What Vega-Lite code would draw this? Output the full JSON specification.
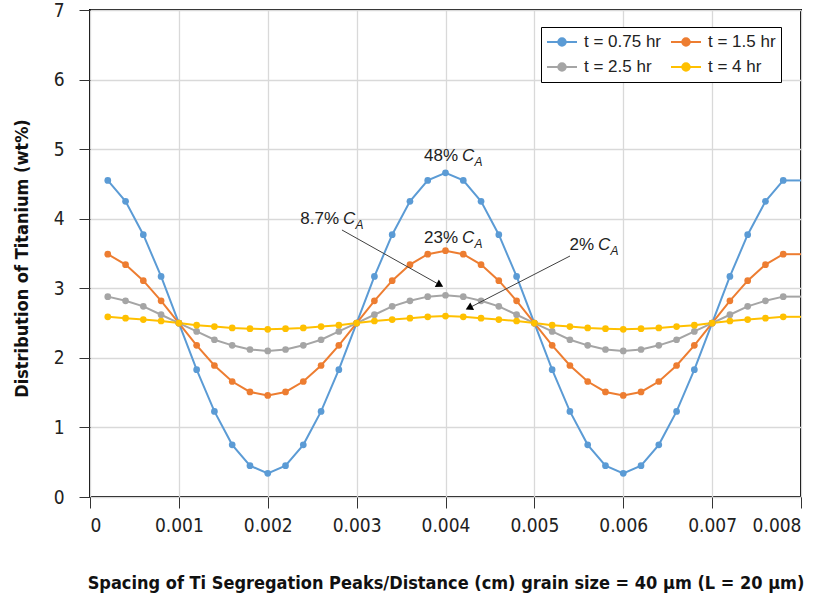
{
  "$schema": "https://vega.github.io/schema/vega-lite/v6.json",
  "width": 711,
  "height": 487,
  "autosize": {"type": "none"},
  "padding": {"left": 90, "top": 10, "right": 24, "bottom": 103},
  "background": "white",
  "config": {
    "view": {"stroke": "#000", "strokeWidth": 2},
    "axis": {
      "domain": false,
      "grid": true,
      "gridColor": "#d9d9d9",
      "gridWidth": 1.3,
      "tickColor": "#333",
      "tickSize": 11,
      "labelFont": "DejaVu Sans Condensed, Liberation Sans, sans-serif",
      "labelFontSize": 19,
      "labelColor": "#222",
      "titleFont": "DejaVu Sans Condensed, Liberation Sans, sans-serif",
      "titleFontSize": 18,
      "titleFontWeight": "bold",
      "titleColor": "#111"
    }
  },
  "datasets": {
    "main": [
      {"x":0.0002,"s":"t = 0.75 hr","y":4.55},{"x":0.0004,"s":"t = 0.75 hr","y":4.25},{"x":0.0006,"s":"t = 0.75 hr","y":3.77},{"x":0.0008,"s":"t = 0.75 hr","y":3.17},{"x":0.001,"s":"t = 0.75 hr","y":2.5},
      {"x":0.0012,"s":"t = 0.75 hr","y":1.83},{"x":0.0014,"s":"t = 0.75 hr","y":1.23},{"x":0.0016,"s":"t = 0.75 hr","y":0.75},{"x":0.0018,"s":"t = 0.75 hr","y":0.45},{"x":0.002,"s":"t = 0.75 hr","y":0.34},
      {"x":0.0022,"s":"t = 0.75 hr","y":0.45},{"x":0.0024,"s":"t = 0.75 hr","y":0.75},{"x":0.0026,"s":"t = 0.75 hr","y":1.23},{"x":0.0028,"s":"t = 0.75 hr","y":1.83},{"x":0.003,"s":"t = 0.75 hr","y":2.5},
      {"x":0.0032,"s":"t = 0.75 hr","y":3.17},{"x":0.0034,"s":"t = 0.75 hr","y":3.77},{"x":0.0036,"s":"t = 0.75 hr","y":4.25},{"x":0.0038,"s":"t = 0.75 hr","y":4.55},{"x":0.004,"s":"t = 0.75 hr","y":4.66},
      {"x":0.0042,"s":"t = 0.75 hr","y":4.55},{"x":0.0044,"s":"t = 0.75 hr","y":4.25},{"x":0.0046,"s":"t = 0.75 hr","y":3.77},{"x":0.0048,"s":"t = 0.75 hr","y":3.17},{"x":0.005,"s":"t = 0.75 hr","y":2.5},
      {"x":0.0052,"s":"t = 0.75 hr","y":1.83},{"x":0.0054,"s":"t = 0.75 hr","y":1.23},{"x":0.0056,"s":"t = 0.75 hr","y":0.75},{"x":0.0058,"s":"t = 0.75 hr","y":0.45},{"x":0.006,"s":"t = 0.75 hr","y":0.34},
      {"x":0.0062,"s":"t = 0.75 hr","y":0.45},{"x":0.0064,"s":"t = 0.75 hr","y":0.75},{"x":0.0066,"s":"t = 0.75 hr","y":1.23},{"x":0.0068,"s":"t = 0.75 hr","y":1.83},{"x":0.007,"s":"t = 0.75 hr","y":2.5},
      {"x":0.0072,"s":"t = 0.75 hr","y":3.17},{"x":0.0074,"s":"t = 0.75 hr","y":3.77},{"x":0.0076,"s":"t = 0.75 hr","y":4.25},{"x":0.0078,"s":"t = 0.75 hr","y":4.55},

      {"x":0.0002,"s":"t = 1.5 hr","y":3.49},{"x":0.0004,"s":"t = 1.5 hr","y":3.34},{"x":0.0006,"s":"t = 1.5 hr","y":3.11},{"x":0.0008,"s":"t = 1.5 hr","y":2.82},{"x":0.001,"s":"t = 1.5 hr","y":2.5},
      {"x":0.0012,"s":"t = 1.5 hr","y":2.18},{"x":0.0014,"s":"t = 1.5 hr","y":1.89},{"x":0.0016,"s":"t = 1.5 hr","y":1.66},{"x":0.0018,"s":"t = 1.5 hr","y":1.51},{"x":0.002,"s":"t = 1.5 hr","y":1.46},
      {"x":0.0022,"s":"t = 1.5 hr","y":1.51},{"x":0.0024,"s":"t = 1.5 hr","y":1.66},{"x":0.0026,"s":"t = 1.5 hr","y":1.89},{"x":0.0028,"s":"t = 1.5 hr","y":2.18},{"x":0.003,"s":"t = 1.5 hr","y":2.5},
      {"x":0.0032,"s":"t = 1.5 hr","y":2.82},{"x":0.0034,"s":"t = 1.5 hr","y":3.11},{"x":0.0036,"s":"t = 1.5 hr","y":3.34},{"x":0.0038,"s":"t = 1.5 hr","y":3.49},{"x":0.004,"s":"t = 1.5 hr","y":3.54},
      {"x":0.0042,"s":"t = 1.5 hr","y":3.49},{"x":0.0044,"s":"t = 1.5 hr","y":3.34},{"x":0.0046,"s":"t = 1.5 hr","y":3.11},{"x":0.0048,"s":"t = 1.5 hr","y":2.82},{"x":0.005,"s":"t = 1.5 hr","y":2.5},
      {"x":0.0052,"s":"t = 1.5 hr","y":2.18},{"x":0.0054,"s":"t = 1.5 hr","y":1.89},{"x":0.0056,"s":"t = 1.5 hr","y":1.66},{"x":0.0058,"s":"t = 1.5 hr","y":1.51},{"x":0.006,"s":"t = 1.5 hr","y":1.46},
      {"x":0.0062,"s":"t = 1.5 hr","y":1.51},{"x":0.0064,"s":"t = 1.5 hr","y":1.66},{"x":0.0066,"s":"t = 1.5 hr","y":1.89},{"x":0.0068,"s":"t = 1.5 hr","y":2.18},{"x":0.007,"s":"t = 1.5 hr","y":2.5},
      {"x":0.0072,"s":"t = 1.5 hr","y":2.82},{"x":0.0074,"s":"t = 1.5 hr","y":3.11},{"x":0.0076,"s":"t = 1.5 hr","y":3.34},{"x":0.0078,"s":"t = 1.5 hr","y":3.49},

      {"x":0.0002,"s":"t = 2.5 hr","y":2.88},{"x":0.0004,"s":"t = 2.5 hr","y":2.82},{"x":0.0006,"s":"t = 2.5 hr","y":2.74},{"x":0.0008,"s":"t = 2.5 hr","y":2.62},{"x":0.001,"s":"t = 2.5 hr","y":2.5},
      {"x":0.0012,"s":"t = 2.5 hr","y":2.38},{"x":0.0014,"s":"t = 2.5 hr","y":2.26},{"x":0.0016,"s":"t = 2.5 hr","y":2.18},{"x":0.0018,"s":"t = 2.5 hr","y":2.12},{"x":0.002,"s":"t = 2.5 hr","y":2.1},
      {"x":0.0022,"s":"t = 2.5 hr","y":2.12},{"x":0.0024,"s":"t = 2.5 hr","y":2.18},{"x":0.0026,"s":"t = 2.5 hr","y":2.26},{"x":0.0028,"s":"t = 2.5 hr","y":2.38},{"x":0.003,"s":"t = 2.5 hr","y":2.5},
      {"x":0.0032,"s":"t = 2.5 hr","y":2.62},{"x":0.0034,"s":"t = 2.5 hr","y":2.74},{"x":0.0036,"s":"t = 2.5 hr","y":2.82},{"x":0.0038,"s":"t = 2.5 hr","y":2.88},{"x":0.004,"s":"t = 2.5 hr","y":2.9},
      {"x":0.0042,"s":"t = 2.5 hr","y":2.88},{"x":0.0044,"s":"t = 2.5 hr","y":2.82},{"x":0.0046,"s":"t = 2.5 hr","y":2.74},{"x":0.0048,"s":"t = 2.5 hr","y":2.62},{"x":0.005,"s":"t = 2.5 hr","y":2.5},
      {"x":0.0052,"s":"t = 2.5 hr","y":2.38},{"x":0.0054,"s":"t = 2.5 hr","y":2.26},{"x":0.0056,"s":"t = 2.5 hr","y":2.18},{"x":0.0058,"s":"t = 2.5 hr","y":2.12},{"x":0.006,"s":"t = 2.5 hr","y":2.1},
      {"x":0.0062,"s":"t = 2.5 hr","y":2.12},{"x":0.0064,"s":"t = 2.5 hr","y":2.18},{"x":0.0066,"s":"t = 2.5 hr","y":2.26},{"x":0.0068,"s":"t = 2.5 hr","y":2.38},{"x":0.007,"s":"t = 2.5 hr","y":2.5},
      {"x":0.0072,"s":"t = 2.5 hr","y":2.62},{"x":0.0074,"s":"t = 2.5 hr","y":2.74},{"x":0.0076,"s":"t = 2.5 hr","y":2.82},{"x":0.0078,"s":"t = 2.5 hr","y":2.88},

      {"x":0.0002,"s":"t = 4 hr","y":2.59},{"x":0.0004,"s":"t = 4 hr","y":2.57},{"x":0.0006,"s":"t = 4 hr","y":2.55},{"x":0.0008,"s":"t = 4 hr","y":2.53},{"x":0.001,"s":"t = 4 hr","y":2.5},
      {"x":0.0012,"s":"t = 4 hr","y":2.47},{"x":0.0014,"s":"t = 4 hr","y":2.45},{"x":0.0016,"s":"t = 4 hr","y":2.43},{"x":0.0018,"s":"t = 4 hr","y":2.42},{"x":0.002,"s":"t = 4 hr","y":2.41},
      {"x":0.0022,"s":"t = 4 hr","y":2.42},{"x":0.0024,"s":"t = 4 hr","y":2.43},{"x":0.0026,"s":"t = 4 hr","y":2.45},{"x":0.0028,"s":"t = 4 hr","y":2.47},{"x":0.003,"s":"t = 4 hr","y":2.5},
      {"x":0.0032,"s":"t = 4 hr","y":2.53},{"x":0.0034,"s":"t = 4 hr","y":2.55},{"x":0.0036,"s":"t = 4 hr","y":2.57},{"x":0.0038,"s":"t = 4 hr","y":2.59},{"x":0.004,"s":"t = 4 hr","y":2.6},
      {"x":0.0042,"s":"t = 4 hr","y":2.59},{"x":0.0044,"s":"t = 4 hr","y":2.57},{"x":0.0046,"s":"t = 4 hr","y":2.55},{"x":0.0048,"s":"t = 4 hr","y":2.53},{"x":0.005,"s":"t = 4 hr","y":2.5},
      {"x":0.0052,"s":"t = 4 hr","y":2.47},{"x":0.0054,"s":"t = 4 hr","y":2.45},{"x":0.0056,"s":"t = 4 hr","y":2.43},{"x":0.0058,"s":"t = 4 hr","y":2.42},{"x":0.006,"s":"t = 4 hr","y":2.41},
      {"x":0.0062,"s":"t = 4 hr","y":2.42},{"x":0.0064,"s":"t = 4 hr","y":2.43},{"x":0.0066,"s":"t = 4 hr","y":2.45},{"x":0.0068,"s":"t = 4 hr","y":2.47},{"x":0.007,"s":"t = 4 hr","y":2.5},
      {"x":0.0072,"s":"t = 4 hr","y":2.53},{"x":0.0074,"s":"t = 4 hr","y":2.55},{"x":0.0076,"s":"t = 4 hr","y":2.57},{"x":0.0078,"s":"t = 4 hr","y":2.59}
    ],
    "tail": [
      {"x":0.0078,"s":"t = 0.75 hr","y":4.55},{"x":0.008,"s":"t = 0.75 hr","y":4.55},
      {"x":0.0078,"s":"t = 1.5 hr","y":3.49},{"x":0.008,"s":"t = 1.5 hr","y":3.49},
      {"x":0.0078,"s":"t = 2.5 hr","y":2.88},{"x":0.008,"s":"t = 2.5 hr","y":2.88},
      {"x":0.0078,"s":"t = 4 hr","y":2.59},{"x":0.008,"s":"t = 4 hr","y":2.59}
    ],
    "ann": [
      {"x":0.004186,"y":4.83,"pct":"48%"},
      {"x":0.002847,"y":3.924,"pct":"8.7%"},
      {"x":0.004186,"y":3.651,"pct":"23%"},
      {"x":0.005716,"y":3.55,"pct":"2%"}
    ],
    "arr": [
      {"id":1,"x":0.002835,"y":3.838,"x2":0.003938,"y2":3.047},
      {"id":2,"x":0.005401,"y":3.464,"x2":0.004264,"y2":2.717}
    ]
  },
  "layer": [
    {
      "data": {"name": "main"},
      "mark": {"type": "line", "strokeWidth": 2},
      "encoding": {
        "x": {"field": "x", "type": "quantitative",
              "scale": {"domain": [0, 0.008], "nice": false, "zero": false},
              "axis": {"values": [0,0.001,0.002,0.003,0.004,0.005,0.006,0.007,0.008], "format": ".3~f", "labelPadding": 8,
                       "title": "Spacing of Ti Segregation Peaks/Distance (cm) grain size = 40 μm (L = 20 μm)",
                       "titleX": 355.5, "titleY": 86, "titleBaseline": "middle", "titleAnchor": null}},
        "y": {"field": "y", "type": "quantitative",
              "scale": {"domain": [0, 7], "nice": false},
              "axis": {"values": [0,1,2,3,4,5,6,7], "format": "d", "labelPadding": 15, "title": "Distribution of Titanium (wt%)",
                       "titleX": -68, "titleY": 248, "titleBaseline": "middle", "titleAngle": -90}},
        "color": {"field": "s", "type": "nominal",
                  "scale": {"domain": ["t = 0.75 hr", "t = 2.5 hr", "t = 1.5 hr", "t = 4 hr"],
                            "range": ["#5B9BD5", "#A5A5A5", "#ED7D31", "#FFC000"]},
                  "legend": {
                    "orient": "none", "legendX": 451, "legendY": 17, "columns": 2, "title": null,
                    "strokeColor": "#000", "fillColor": "#fff", "padding": 5,
                    "labelFont": "Liberation Sans", "labelFontSize": 17, "labelColor": "#222",
                    "symbolType": "M-1,0H1M-0.25,0A0.25,0.25 0 1,0 0.25,0A0.25,0.25 0 1,0 -0.25,0",
                    "symbolSize": 900, "symbolStrokeWidth": 2, "clipHeight": 20,
                    "columnPadding": 8, "rowPadding": 5, "labelOffset": 6,
                    "encode": {"symbols": {"update": {"fill": {"scale": "color", "field": "value"},
                                                       "stroke": {"scale": "color", "field": "value"}}}}
                  }}
      }
    },
    {
      "data": {"name": "main"},
      "mark": {"type": "point", "filled": true, "size": 45, "opacity": 1},
      "encoding": {
        "x": {"field": "x", "type": "quantitative"},
        "y": {"field": "y", "type": "quantitative"},
        "color": {"field": "s", "type": "nominal"}
      }
    },
    {
      "data": {"name": "tail"},
      "mark": {"type": "line", "strokeWidth": 2},
      "encoding": {
        "x": {"field": "x", "type": "quantitative"},
        "y": {"field": "y", "type": "quantitative"},
        "color": {"field": "s", "type": "nominal"}
      }
    },
    {
      "data": {"name": "arr"},
      "mark": {"type": "rule", "color": "#404040", "strokeWidth": 1},
      "encoding": {
        "x": {"field": "x", "type": "quantitative"},
        "y": {"field": "y", "type": "quantitative"},
        "x2": {"field": "x2"},
        "y2": {"field": "y2"}
      }
    },
    {
      "data": {"name": "arr"},
      "transform": [{"filter": "datum.id == 1"}],
      "mark": {"type": "point", "shape": "triangle-right", "filled": true, "color": "#000", "size": 70, "angle": 29, "opacity": 1},
      "encoding": {
        "x": {"field": "x2", "type": "quantitative"},
        "y": {"field": "y2", "type": "quantitative"}
      }
    },
    {
      "data": {"name": "arr"},
      "transform": [{"filter": "datum.id == 2"}],
      "mark": {"type": "point", "shape": "triangle-right", "filled": true, "color": "#000", "size": 70, "angle": 153, "opacity": 1},
      "encoding": {
        "x": {"field": "x2", "type": "quantitative"},
        "y": {"field": "y2", "type": "quantitative"}
      }
    },
    {
      "data": {"name": "ann"},
      "mark": {"type": "text", "align": "right", "baseline": "alphabetic", "dx": -4, "font": "Liberation Sans", "fontSize": 17, "color": "#222"},
      "encoding": {
        "x": {"field": "x", "type": "quantitative"},
        "y": {"field": "y", "type": "quantitative"},
        "text": {"field": "pct"}
      }
    },
    {
      "data": {"name": "ann"},
      "mark": {"type": "text", "align": "left", "baseline": "alphabetic", "font": "Liberation Sans", "fontSize": 17, "fontStyle": "italic", "color": "#222"},
      "encoding": {
        "x": {"field": "x", "type": "quantitative"},
        "y": {"field": "y", "type": "quantitative"},
        "text": {"value": "C"}
      }
    },
    {
      "data": {"name": "ann"},
      "mark": {"type": "text", "align": "left", "baseline": "alphabetic", "dx": 12.5, "dy": 5, "font": "Liberation Sans", "fontSize": 12, "fontStyle": "italic", "color": "#222"},
      "encoding": {
        "x": {"field": "x", "type": "quantitative"},
        "y": {"field": "y", "type": "quantitative"},
        "text": {"value": "A"}
      }
    }
  ]
}
